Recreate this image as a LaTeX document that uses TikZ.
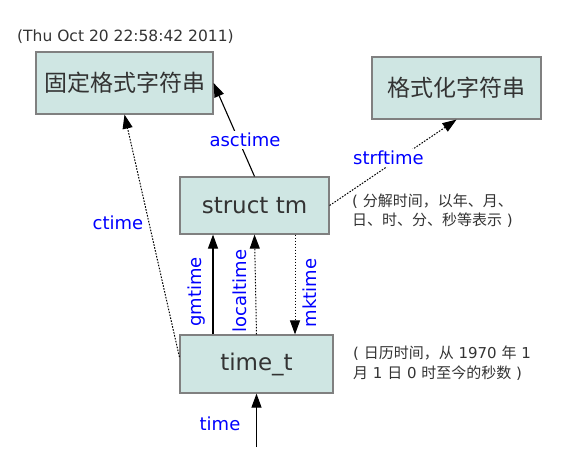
\documentclass[tikz,border=0pt]{standalone}
\usepackage{fontspec}
\setmainfont{DejaVu Sans}
\newfontfamily\cjk{Noto Sans CJK SC}
\usetikzlibrary{arrows.meta,calc}
\definecolor{boxfill}{RGB}{207,230,227}
\definecolor{boxline}{RGB}{128,128,128}
\definecolor{txt}{RGB}{51,51,51}
\definecolor{lbl}{RGB}{0,0,255}
\begin{document}
\begin{tikzpicture}[x=1pt,y=-1pt,
 box/.style={draw=boxline,fill=boxfill,line width=1.2pt,inner sep=0pt,text=txt,font=\fontsize{23}{26}\selectfont},
 conn/.style={line width=1.1pt,-{Triangle[length=14pt,width=10pt]}},
 dots/.style={line width=1pt,dash pattern=on 1.6pt off 1.4pt},
 lab/.style={text=lbl,font=\fontsize{18}{20}\selectfont,inner sep=0pt},
 note/.style={text=txt,align=left,inner sep=0pt,anchor=west}]
\useasboundingbox (0,0) rectangle (573,468);
% boxes
\node[box,minimum width=177pt,minimum height=62pt] (fixed) at (124.5,83) {\cjk 固定格式字符串};
\node[box,minimum width=169pt,minimum height=62pt] (fmt) at (456.5,88) {\cjk 格式化字符串};
\node[box,minimum width=149pt,minimum height=57pt] (st) at (254.5,205.5) {struct tm};
\node[box,minimum width=153pt,minimum height=58pt] (tt) at (256.5,364) {time\_t};
% notes
\node[note,font=\fontsize{15.5}{19}\selectfont] (n0) at (17,37) {(Thu Oct 20 22:58:42 2011)};
\node[note,font=\fontsize{15}{19}\selectfont] (n1) at (352,211) {( {\cjk 分解时间，以年、月、}\\{\cjk 日、时、分、秒等表示} )};
\node[note,font=\fontsize{15}{20}\selectfont] (n2) at (353,363) {( {\cjk 日历时间，从} 1970 {\cjk 年} 1\\{\cjk 月} 1 {\cjk 日} 0 {\cjk 时至今的秒数} )};
% helper coordinates
\coordinate (gx) at (213,0);
\coordinate (mx) at (295,0);
\coordinate (tstart) at (256.5,447);
% connectors
\draw[conn] (st.north) -- (fixed.east);
\draw[conn,dots] (st.east) -- (fmt.south);
\draw[conn,dots] ($(tt.west)+(0,-7)$) -- (fixed.south);
\draw[conn] (tt.north -| gx) -- (st.south -| gx);
\draw[conn,dots] (tt.north) -- (st.south);
\draw[conn,dots] (st.south -| mx) -- (tt.north -| mx);
\draw[conn] (tstart) -- (tt.south);
% labels
\node[lab,fill=white,inner sep=2pt] (l1) at (245,140) {asctime};
\node[lab,fill=white,inner sep=2pt] (l2) at (388.5,158) {strftime};
\node[lab,fill=white,inner sep=1pt] (l3) at (118,223) {ctime};
\node[lab,rotate=90] (l4) at (197,292) {gmtime};
\node[lab,rotate=90] (l5) at (240,291) {localtime};
\node[lab,rotate=90] (l6) at (310,293) {mktime};
\node[lab] (l7) at (220,424) {time};
\end{tikzpicture}
\end{document}
